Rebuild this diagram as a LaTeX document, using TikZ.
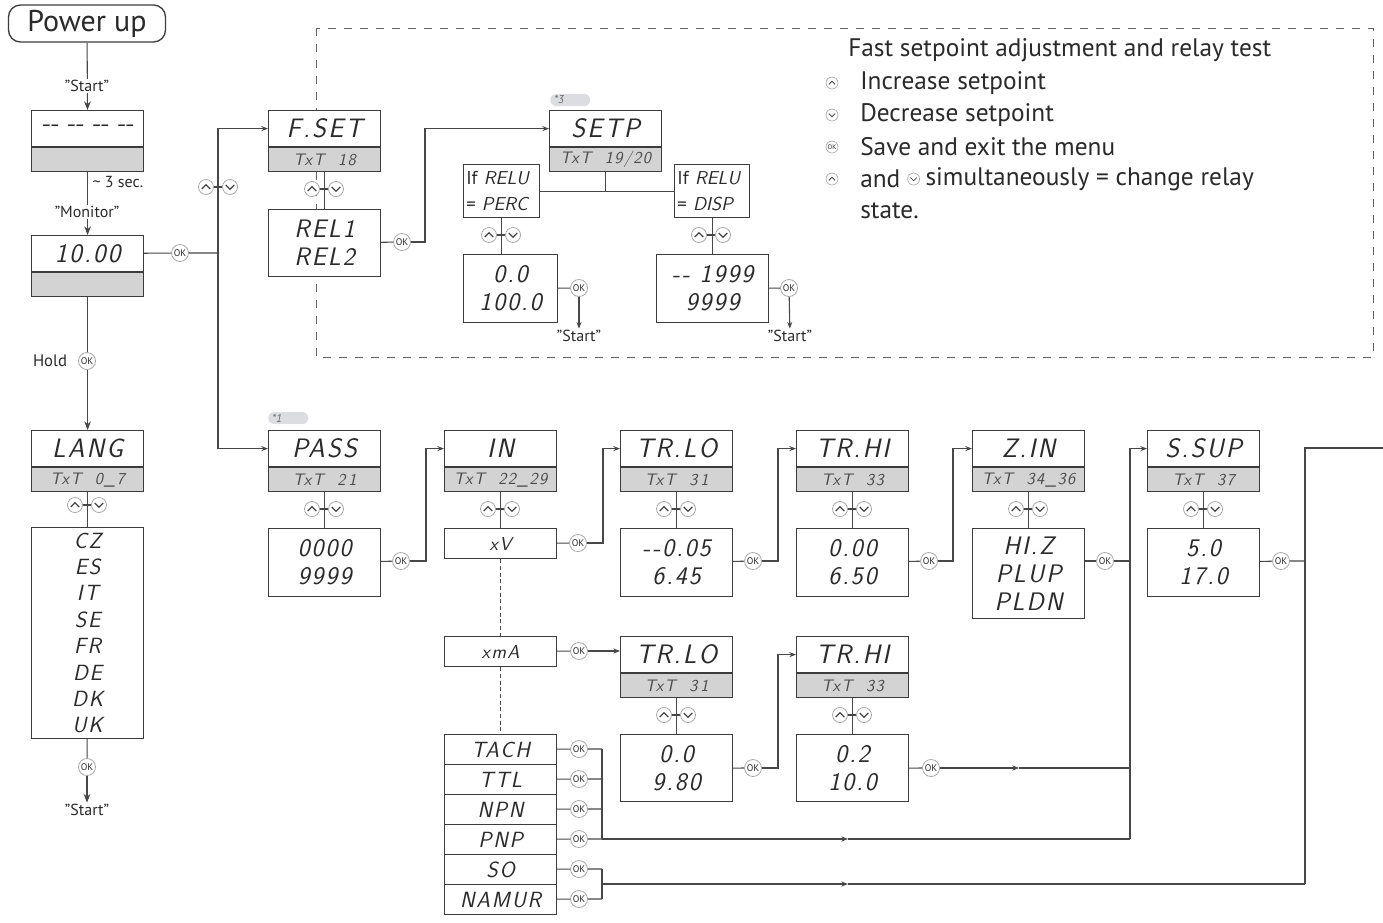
\documentclass[tikz,border=0pt]{standalone}
\usepackage{fontspec}
\setmainfont{PT Sans}
\newfontfamily\lcdf{Latin Modern Sans}[LetterSpace=8.0]
\newfontfamily\lcdn{Latin Modern Sans}
\usetikzlibrary{arrows.meta,calc,positioning}
\definecolor{ln}{HTML}{474747}
\definecolor{bx}{HTML}{3C3C3C}
\definecolor{gf}{HTML}{D3D3D3}
\definecolor{cg}{HTML}{A8A8A8}
\definecolor{txt}{HTML}{2A2A2A}
\definecolor{tagc}{HTML}{DCDDE0}
\newcommand\lcd{\lcdf\slshape}
\newcommand\lcdt{\lcdn\slshape}
\tikzset{
 conn/.style={draw=ln, line width=0.8pt},
 arr/.style={conn, -{Stealth[length=5pt,width=3.8pt]}},
 bigarr/.style={conn, -{Stealth[length=6.5pt,width=5pt]}},
 dashc/.style={draw=ln, line width=1pt, dash pattern=on 3pt off 2pt},
 frame/.style={draw=ln!85, line width=0.7pt, dash pattern=on 6pt off 6pt},
 dtop/.style={draw=bx, line width=0.9pt, fill=white, minimum width=84pt, minimum height=27pt, inner sep=0pt, anchor=north west, font=\lcd\fontsize{20}{20}\selectfont, text=txt},
 dbot/.style={draw=bx, line width=0.9pt, fill=gf, minimum width=84pt, minimum height=18pt, inner sep=0pt, anchor=north west, font=\lcd\fontsize{12.5}{12.5}\selectfont, text=txt!85},
 vbox/.style={draw=bx, line width=0.9pt, fill=white, inner sep=0pt, anchor=north west, align=center, minimum width=84pt, font=\lcd\fontsize{19}{21}\selectfont, text=txt},
 lbl/.style={inner sep=1pt, font=\fontsize{12}{12}\selectfont, text=txt},
 pwr/.style={draw=bx, line width=1pt, rounded corners=9pt, minimum width=117.75pt, minimum height=27.75pt, inner sep=0pt, font=\fontsize{22.5}{22.5}\selectfont, text=txt},
 okc/.style={circle, draw=cg, line width=0.6pt, fill=white, minimum size=12.75pt, inner sep=0pt, font=\fontsize{7.2}{7.2}\selectfont, text=txt},
 okcs/.style={circle, draw=cg, line width=0.5pt, fill=white, minimum size=9pt, inner sep=0pt, font=\fontsize{5}{5}\selectfont, text=txt},
 upc/.style={circle, draw=cg, line width=0.6pt, fill=white, minimum size=11.25pt, inner sep=0pt,
   path picture={\draw[ln, line width=1pt] ([shift={(-3.2pt,-1.5pt)}]path picture bounding box.center) -- ++(3.2pt,3.2pt) -- ++(3.2pt,-3.2pt);}},
 dnc/.style={circle, draw=cg, line width=0.6pt, fill=white, minimum size=11.25pt, inner sep=0pt,
   path picture={\draw[ln, line width=1pt] ([shift={(-3.2pt,1.5pt)}]path picture bounding box.center) -- ++(3.2pt,-3.2pt) -- ++(3.2pt,3.2pt);}},
 upcs/.style={circle, draw=cg, line width=0.5pt, fill=white, minimum size=9pt, inner sep=0pt,
   path picture={\draw[ln, line width=0.6pt] ([shift={(-2.4pt,-1.1pt)}]path picture bounding box.center) -- ++(2.4pt,2.4pt) -- ++(2.4pt,-2.4pt);}},
 dncs/.style={circle, draw=cg, line width=0.5pt, fill=white, minimum size=9pt, inner sep=0pt,
   path picture={\draw[ln, line width=0.6pt] ([shift={(-2.4pt,1.1pt)}]path picture bounding box.center) -- ++(2.4pt,-2.4pt) -- ++(2.4pt,2.4pt);}},
 tagst/.style={fill=tagc, rounded corners=4.5pt, minimum height=9pt, text width=24pt, align=left, inner xsep=3pt, inner ysep=0pt, anchor=west, font=\itshape\fontsize{8.5}{8.5}\selectfont, text=txt!70},
 ifbox/.style={draw=bx, line width=0.9pt, fill=white, inner sep=0pt, anchor=north west, align=left, minimum height=39.75pt, font=\fontsize{14}{19}\selectfont, text=txt},
 info/.style={anchor=west, inner sep=0pt, font=\fontsize{19}{22}\selectfont, text=txt},
}
\newcommand\dispbox[5]{%
 \node[dtop] (#1) at (#2,#3) {#4};
 \node[dbot] (#1s) at (#1.south west) {#5};
}
\newcommand\udpair[3]{%
 \node[upc] (#1u) at ({#2-12},#3) {};
 \node[dnc] (#1d) at ({#2+12},#3) {};
 \draw[conn] (#1u) -- (#1d);
}
\begin{document}
\begin{tikzpicture}[x=0.75pt,y=-0.75pt]
\fill[white] (0,0) rectangle (1383,922);
\useasboundingbox (0,0) rectangle (1383,922);

% dashed frame
\draw[frame] (316,28) rectangle (1373,357);

% ---------- left column ----------
\node[pwr] (pu) at (87,23.5) {Power up};
\dispbox{b1}{31}{110}{\lcdt -{}- -{}- -{}- -{}-}{}
\dispbox{b2}{31}{235}{10.00}{}
\draw[bigarr] (pu) -- (b1);
\node[lbl, fill=white] (st0) at (87,86) {"Start"};
\draw[bigarr] (b1s) -- (b2);
\node[lbl, anchor=west] (sec) at (91,182) {\textasciitilde\ 3 sec.};
\node[lbl, fill=white] (mon) at (87,212) {"Monitor"};

\dispbox{lang}{31}{430}{LANG}{TxT\ \ 0\_7}
\draw[bigarr] (b2s) -- (lang);
\node[okc] (okH) at (87,361) {OK};
\node[lbl, font=\fontsize{12.5}{12.5}\selectfont] (hold) at (50,361) {Hold};
\node[vbox, minimum height=158.25pt, font=\lcd\fontsize{16.5}{19.8}\selectfont] (ll) at (31,527) {CZ\\ES\\IT\\SE\\FR\\DE\\DK\\UK};
\draw[conn] (langs) -- (ll);
\udpair{uL}{87}{505}
\node[okc] (okL) at (87,767) {OK};
\draw[conn] (ll) -- (okL);
\node[lbl] (stL) at (87,810) {"Start"};
\draw[bigarr] (okL) -- (stL);

% ---------- fast setpoint branch ----------
\node[okc] (ok1) at (180,253) {OK};
\coordinate (j1) at (218,253);
\dispbox{fset}{268}{110}{F.SET}{TxT\ \ 18}
\dispbox{pass}{268}{430}{PASS}{TxT\ \ 2\,1}
\draw[conn] (b2) -- (ok1) -- (j1);
\draw[arr] (j1) |- (fset.west);
\draw[arr] (j1) |- (pass.west);
\udpair{u0}{218}{187}

\node[vbox, minimum height=50.25pt] (rel) at (268,209) {REL1\\REL2};
\draw[conn] (fsets) -- (rel);
\udpair{uF}{324}{189}
\node[okc] (okR) at (402,242) {OK};
\coordinate (cR) at (425,242);
\dispbox{setp}{549}{110}{SETP}{TxT\ \ 19/20}
\node[tagst] (tag3) at (550,100) {*3};
\draw[conn] (rel) -- (okR);
\draw[arr] (okR) -- (cR) |- (setp.west);

\node[ifbox, minimum width=57pt, text width=53pt, inner xsep=2pt] (ifL) at (463,164) {If {\lcdt\fontsize{14}{14}\selectfont RELU}\\= {\lcdt\fontsize{14}{14}\selectfont PERC}};
\node[ifbox, minimum width=56.25pt, text width=52pt, inner xsep=2pt] (ifR) at (674,164) {If {\lcdt\fontsize{14}{14}\selectfont RELU}\\= {\lcdt\fontsize{14}{14}\selectfont DISP}};
\draw[conn] (setps.south) -- (setps.south |- ifL.east);
\draw[conn] (ifL) -- (ifR);

\node[vbox, minimum width=70.5pt, minimum height=51pt] (valL) at (463,254) {0.0\\100.0};
\draw[conn] (ifL.south) -- (ifL.south |- valL.north);
\udpair{uIL}{501}{235}
\node[okc] (okVL) at (579,288) {OK};
\draw[conn] (valL) -- (okVL);
\node[lbl] (stVL) at (579,336) {"Start"};
\draw[arr] (okVL) -- (stVL);

\node[vbox, minimum height=51pt] (valR) at (656,254) {-{}- 1999\\9999};
\draw[conn] (ifR.south) -- (ifR.south |- valR.north);
\udpair{uIR}{711}{235}
\node[okc] (okVR) at (789,288) {OK};
\draw[conn] (valR) -- (okVR);
\node[lbl] (stVR) at (790,336) {"Start"};
\draw[arr] (okVR) -- (stVR);

% info text
\node[info] (i0) at (848,50) {Fast setpoint adjustment and relay test};
\node[upcs] (ic1) at (832,83) {};
\node[info] (i1) at (860,83) {Increase setpoint};
\node[dncs] (ic2) at (832,115) {};
\node[info] (i2) at (860,115) {Decrease setpoint};
\node[okcs] (ic3) at (832,147) {OK};
\node[info] (i3) at (860,147) {Save and exit the menu};
\node[upcs] (ic4) at (832,179) {};
\node[info] (i4) at (860,179) {and};
\node[dncs, right=5pt of i4] (ic5) {};
\node[info, right=4pt of ic5] (i5) {simultaneously = change relay};
\node[info] (i6) at (860,211) {state.};

% ---------- main menu row ----------
\node[tagst] (tag1) at (268,418) {*1};
\node[vbox, minimum height=51pt] (passv) at (268,528) {0000\\9999};
\draw[conn] (passs) -- (passv);
\udpair{uP}{324}{509}
\node[okc] (okP) at (401,561) {OK};
\coordinate (cP) at (426,561);
\dispbox{in}{444}{430}{IN}{TxT\ \ 22\_29}
\draw[conn] (passv) -- (okP);
\draw[arr] (okP) -- (cP) |- (in.west);

\node[vbox, minimum height=22.5pt, font=\lcd\fontsize{14}{14}\selectfont] (xv) at (444,528) {xV};
\draw[conn] (ins) -- (xv);
\udpair{uI}{500}{509}
\node[okc] (okX) at (578,543) {OK};
\coordinate (cX) at (603,543);
\dispbox{trlo}{620}{430}{TR.LO}{TxT\ \ 3\,1}
\draw[conn] (xv) -- (okX);
\draw[arr] (okX) -- (cX) |- (trlo.west);

\node[vbox, minimum height=51pt] (trlov) at (620,528) {-{}-0.05\\6.45};
\draw[conn] (trlos) -- (trlov);
\udpair{uTL}{676}{509}
\node[okc] (okTL) at (753,561) {OK};
\coordinate (cTL) at (778,561);
\dispbox{trhi}{796}{430}{TR.HI}{TxT\ \ 33}
\draw[conn] (trlov) -- (okTL);
\draw[arr] (okTL) -- (cTL) |- (trhi.west);

\node[vbox, minimum height=51pt] (trhiv) at (796,528) {0.00\\6.50};
\draw[conn] (trhis) -- (trhiv);
\udpair{uTH}{852}{509}
\node[okc] (okTH) at (929,561) {OK};
\coordinate (cTH) at (953,561);
\dispbox{zin}{972}{430}{Z.IN}{TxT\ \ 34\_36}
\draw[conn] (trhiv) -- (okTH);
\draw[arr] (okTH) -- (cTH) |- (zin.west);

\node[vbox, minimum height=67.5pt] (zinv) at (972,528) {HI.Z\\PLUP\\PLDN};
\draw[conn] (zins) -- (zinv);
\udpair{uZ}{1028}{509}
\node[okc] (okZ) at (1105,561) {OK};
\coordinate (cZ) at (1130,561);
\coordinate (cPNP) at (1130,839);
\dispbox{ssup}{1147}{430}{S.SUP}{TxT\ \ 37}
\draw[conn] (zinv.east |- okZ) -- (okZ) -- (cZ);
\draw[arr] (cPNP) |- (ssup.west);

\node[vbox, minimum height=51pt] (ssupv) at (1147,528) {5.0\\17.0};
\draw[conn] (ssups) -- (ssupv);
\udpair{uS}{1203}{509}
\node[okc] (okS) at (1281,561) {OK};
\coordinate (cS) at (1305,561);
\coordinate (cSO) at (1305,884);
\coordinate (cE) at (1383,448);
\draw[conn] (ssupv) -- (okS) -- (cS);
\draw[conn] (cSO) |- (cE);

% ---------- current input branch ----------
\node[vbox, minimum height=22.5pt, font=\lcd\fontsize{14}{14}\selectfont] (xma) at (444,636) {xmA};
\node[okc] (okXm) at (579,651) {OK};
\dispbox{trlob}{620}{636}{TR.LO}{TxT\ \ 3\,1}
\draw[conn] (xma) -- (okXm);
\draw[arr] (okXm) -- (okXm -| trlob.west);

\node[vbox, minimum height=50.25pt] (trlobv) at (620,734) {0.0\\9.80};
\draw[conn] (trlobs) -- (trlobv);
\udpair{uTL2}{676}{715}
\node[okc] (okTL2) at (753,768) {OK};
\coordinate (cTL2) at (778,768);
\dispbox{trhib}{796}{636}{TR.HI}{TxT\ \ 33}
\draw[conn] (trlobv) -- (okTL2);
\draw[arr] (okTL2) -- (cTL2) |- (trhib.west);

\node[vbox, minimum height=50.25pt] (trhibv) at (796,734) {0.2\\10.0};
\draw[conn] (trhibs) -- (trhibv);
\udpair{uTH2}{852}{715}
\node[okc] (okTH2) at (931,768) {OK};
\coordinate (mA) at (1019,768);
\coordinate (cTH2) at (1130,768);
\draw[conn] (trhibv) -- (okTH2);
\draw[arr] (okTH2) -- (mA);
\draw[conn] (mA) -- (cTH2);

% ---------- pulse inputs ----------
\foreach \n/\t [count=\i from 0] in {r1/TACH, r2/TTL, r3/NPN, r4/PNP, r5/SO, r6/NAMUR}{
  \node[vbox, minimum height=22.5pt, font=\lcd\fontsize{16.5}{16.5}\selectfont] (\n) at (444,{734+30*\i}) {\t};
  \node[okc] (o\n) at (579,{749+30*\i}) {OK};
  \coordinate (q\n) at (602,{749+30*\i});
  \draw[conn] (\n) -- (o\n) -- (q\n);
}
\draw[dashc] (xv) -- (xma);
\draw[dashc] (xma) -- (r1);
\coordinate (m1) at (848,839);
\coordinate (q56) at (602,884);
\coordinate (m2) at (848,884);
\draw[conn] (qr1) -- (qr4);
\draw[arr] (qr4) -- (m1);
\draw[conn] (m1) -- (cPNP);
\draw[conn] (qr5) -- (qr6);
\draw[arr] (q56) -- (m2);
\draw[conn] (m2) -- (cSO);
\end{tikzpicture}
\end{document}
